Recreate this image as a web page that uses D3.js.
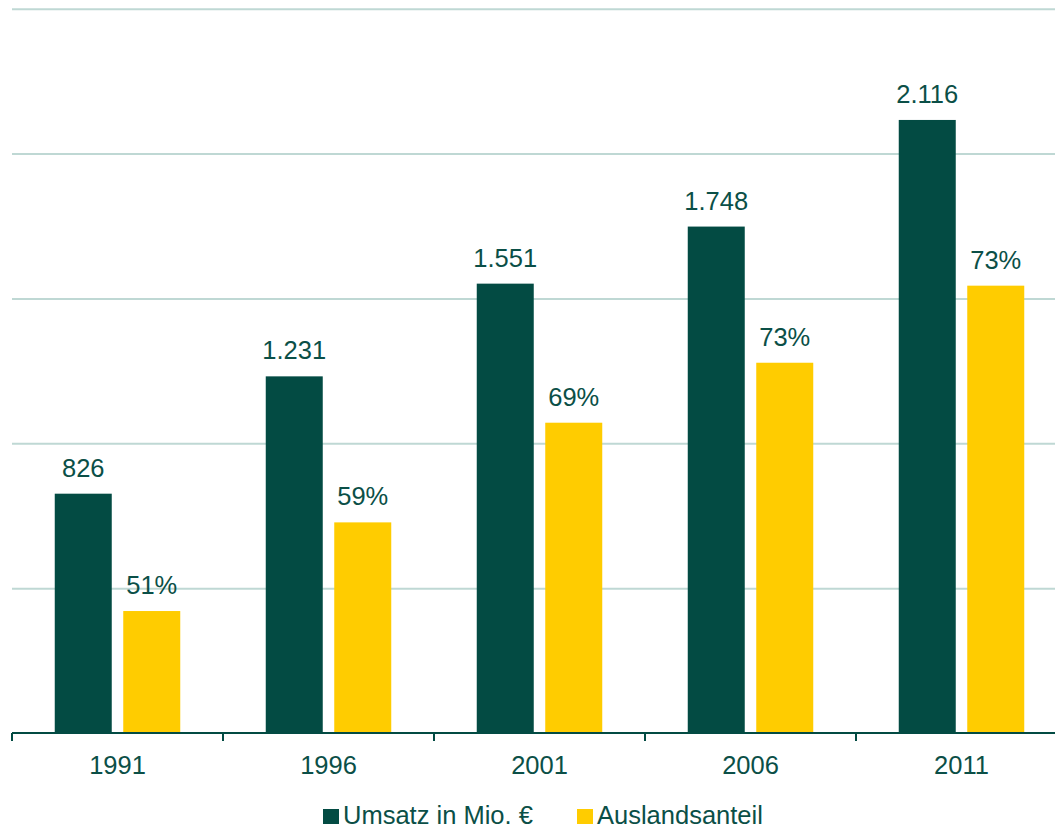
<!DOCTYPE html>
<html>
<head>
<meta charset="utf-8">
<script src="https://cdn.jsdelivr.net/npm/d3@7"></script>
<style>
  body { margin: 0; background: #fff; }
  svg { display: block; font-family: "Liberation Sans", Arial, sans-serif; }
</style>
</head>
<body>
<svg width="1055" height="832"></svg>
<script>
let years = ["1991", "1996", "2001", "2006", "2011"];
let umsatz = [826, 1231, 1551, 1748, 2116];
// bar height of the yellow series = foreign revenue
let auslandUmsatz = [421, 727, 1071, 1278, 1544];
let auslandLabels = ["51%", "59%", "69%", "73%", "73%"];
let umsatzLabels = ["826", "1.231", "1.551", "1.748", "2.116"];
let gridTicks = [0, 500, 1000, 1500, 2000, 2500];

let dark = "#034b43";
let yellow = "#ffcc00";
let textColor = "#0b4f47";
let fontSize = 25.5;

let svg = d3.select("svg");
let plotLeft = 12, plotRight = 1067, plotTop = 8.7, plotBottom = 733;

let x = d3.scaleBand().domain(years).range([plotLeft, plotRight]);
let y = d3.scaleLinear().domain([0, 2500]).range([plotBottom, plotTop]);

// gridlines
let grid = svg.append("g")
  .attr("transform", "translate(" + plotLeft + ",0)")
  .call(d3.axisLeft(y).tickValues(gridTicks.slice(1)).tickSize(-(1055 - plotLeft)).tickFormat(""));
grid.select(".domain").remove();
grid.selectAll("line").attr("stroke", "#bfd8d4").attr("stroke-width", 2);

let barW = 57, gap = 11.5;
let pad = (x.bandwidth() - 2 * barW - gap) / 2;

let groups = svg.selectAll(".year").data(years).enter().append("g")
  .attr("class", "year")
  .attr("transform", function (d) { return "translate(" + x(d) + ",0)"; });

groups.append("rect")
  .attr("x", pad)
  .attr("width", barW)
  .attr("y", function (d, i) { return y(umsatz[i]); })
  .attr("height", function (d, i) { return plotBottom - y(umsatz[i]); })
  .attr("fill", dark);

groups.append("rect")
  .attr("x", pad + barW + gap)
  .attr("width", barW)
  .attr("y", function (d, i) { return y(auslandUmsatz[i]); })
  .attr("height", function (d, i) { return plotBottom - y(auslandUmsatz[i]); })
  .attr("fill", yellow);

groups.append("text")
  .attr("x", pad + barW / 2)
  .attr("y", function (d, i) { return y(umsatz[i]) - 17; })
  .attr("text-anchor", "middle")
  .attr("font-size", fontSize)
  .attr("fill", textColor)
  .text(function (d, i) { return umsatzLabels[i]; });

groups.append("text")
  .attr("x", pad + barW + gap + barW / 2)
  .attr("y", function (d, i) { return y(auslandUmsatz[i]) - 17; })
  .attr("text-anchor", "middle")
  .attr("font-size", fontSize)
  .attr("fill", textColor)
  .text(function (d, i) { return auslandLabels[i]; });

// x axis
let xAxis = svg.append("g")
  .attr("transform", "translate(0," + plotBottom + ")")
  .call(d3.axisBottom(x).tickSize(0).tickFormat(""));
xAxis.select(".domain").remove();
xAxis.append("line")
  .attr("x1", plotLeft).attr("x2", 1055)
  .attr("stroke", dark).attr("stroke-width", 2);
xAxis.selectAll(".sep").data(years).enter().append("line")
  .attr("x1", function (d) { return x(d); })
  .attr("x2", function (d) { return x(d); })
  .attr("y1", 0).attr("y2", 8)
  .attr("stroke", dark).attr("stroke-width", 2);
xAxis.selectAll(".lbl").data(years).enter().append("text")
  .attr("x", function (d) { return x(d) + x.bandwidth() / 2; })
  .attr("y", 41)
  .attr("text-anchor", "middle")
  .attr("font-size", fontSize)
  .attr("fill", textColor)
  .text(function (d) { return d; });

// legend
let legend = [
  { name: "Umsatz in Mio. €", color: dark, x: 323 },
  { name: "Auslandsanteil", color: yellow, x: 577 }
];
let lg = svg.selectAll(".legend").data(legend).enter().append("g")
  .attr("transform", function (d) { return "translate(" + d.x + ",809)"; });
lg.append("rect").attr("width", 16).attr("height", 15).attr("fill", function (d) { return d.color; });
lg.append("text")
  .attr("x", 20).attr("y", 15)
  .attr("font-size", fontSize)
  .attr("fill", textColor)
  .text(function (d) { return d.name; });
</script>
</body>
</html>
